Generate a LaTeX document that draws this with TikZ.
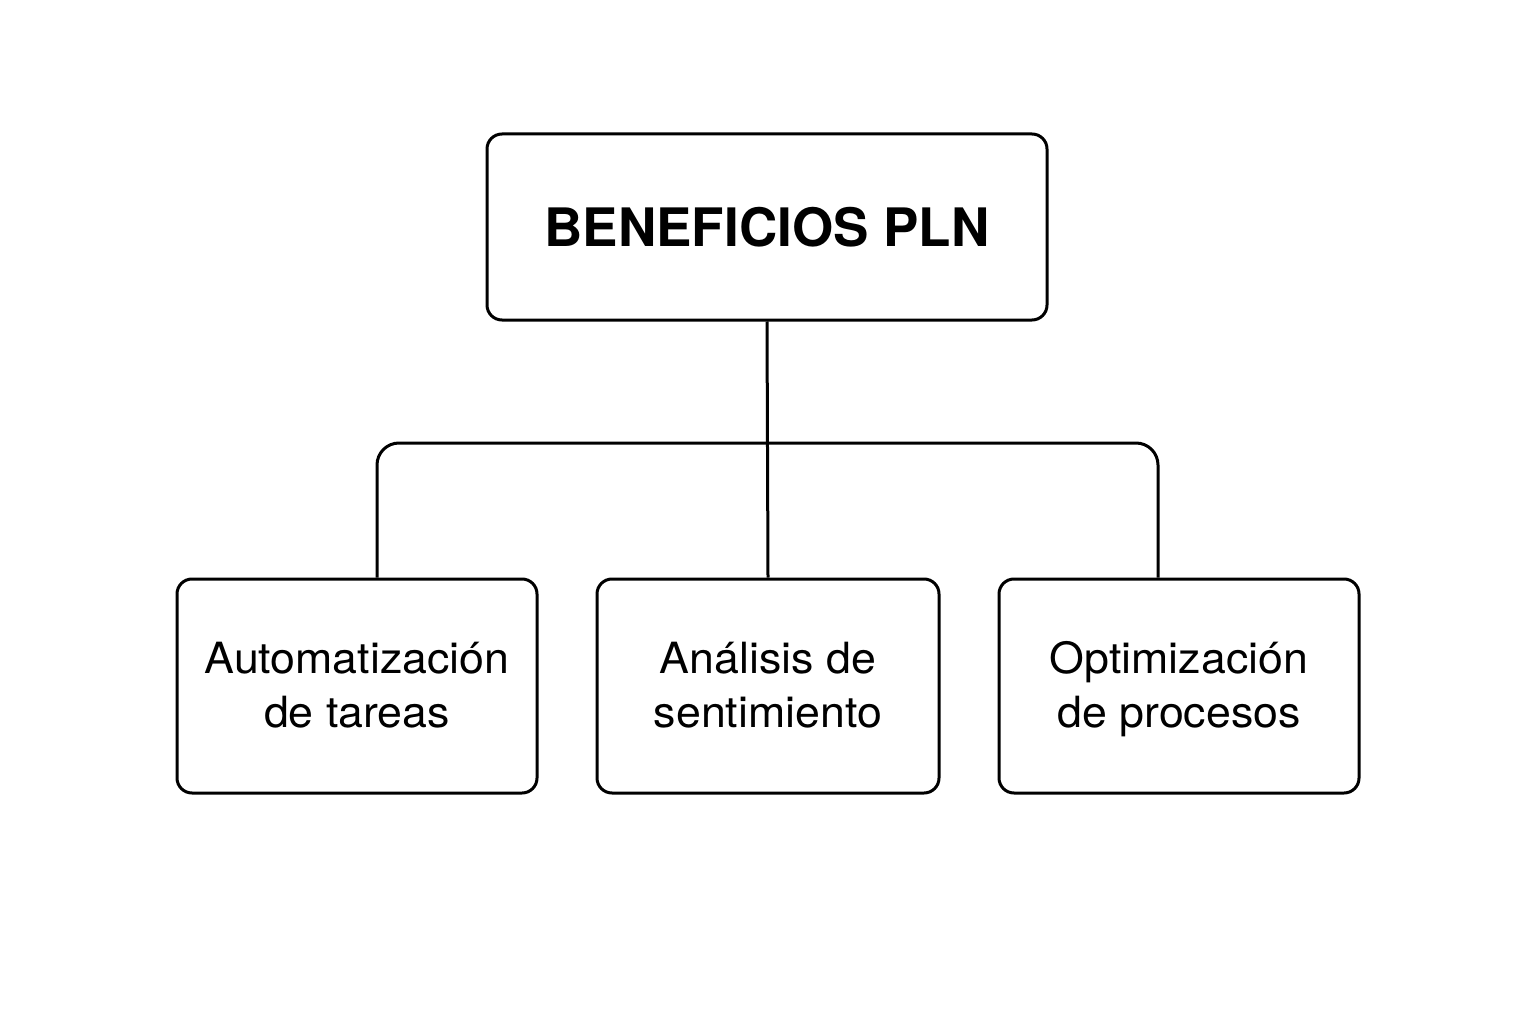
\documentclass[tikz,border=0pt]{standalone}
\usepackage{fontspec}
\setmainfont{TeX Gyre Heros}
\newfontfamily\leaffont{TeX Gyre Heros}[FakeStretch=1.04]
\usetikzlibrary{positioning}

\newcommand{\twolines}[2]{\rule{0pt}{40pt}#1\\#2\rule[-12pt]{0pt}{12pt}}

\tikzset{
  box/.style={draw, line width=3pt, rounded corners=15pt, inner sep=0pt, align=center},
  topbox/.style={box, minimum width=560pt, minimum height=186pt, font=\fontsize{53}{60}\selectfont\bfseries},
  leafbox/.style={box, minimum height=214pt, font=\leaffont\fontsize{43}{54}\selectfont},
  link/.style={line width=3pt}
}

\begin{document}
\begin{tikzpicture}[x=1pt, y=-1pt]
	\useasboundingbox (0,0) rectangle (1536,1024);
	\node[topbox] (root) at (767,227) {BENEFICIOS PLN};
	\node[leafbox, minimum width=360pt] (auto) at (357,686) {\twolines{Automatización}{de tareas}};
	\node[leafbox, minimum width=342pt] (sent) at (768,686) {\twolines{Análisis de}{sentimiento}};
	\node[leafbox, minimum width=360pt] (opti) at (1179,686) {\twolines{Optimización}{de procesos}};
	\coordinate (bus) at (767,443);
	% tree connectors
	\draw[link] (root.south) -- (sent.north);
	\draw[link, rounded corners=22pt] ([xshift=20pt]auto.north) |- (bus) -| ([xshift=-21pt]opti.north);
\end{tikzpicture}
\end{document}
